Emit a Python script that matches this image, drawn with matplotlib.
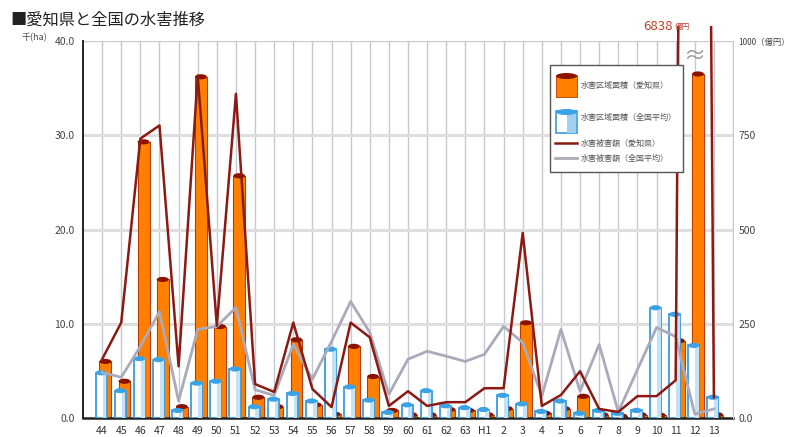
import matplotlib
matplotlib.use("Agg")
import matplotlib.pyplot as plt
from matplotlib.patches import Ellipse, Rectangle
from matplotlib.lines import Line2D
import numpy as np

plt.rcParams['font.family'] = ['Noto Sans CJK JP', 'DejaVu Sans']

# 年度（昭和44年〜平成13年）
years = ['44', '45', '46', '47', '48', '49', '50', '51', '52', '53', '54', '55',
         '56', '57', '58', '59', '60', '61', '62', '63', 'H1', '2', '3', '4',
         '5', '6', '7', '8', '9', '10', '11', '12', '13']

# 水害区域面積（千ha）
aichi_area = [6.0, 3.9, 29.3, 14.7, 1.2, 36.2, 9.7, 25.7, 2.2, 1.2, 8.3, 1.4,
              0.4, 7.6, 4.4, 0.8, 0.35, 0.35, 0.9, 0.8, 0.35, 1.0, 10.1, 0.5,
              1.0, 2.3, 0.35, 0.2, 0.35, 0.3, 8.2, 36.5, 0.35]
national_area = [4.8, 2.9, 6.3, 6.2, 0.8, 3.7, 3.9, 5.2, 1.2, 2.0, 2.6, 1.8,
                 7.3, 3.3, 1.9, 0.6, 1.4, 2.9, 1.3, 1.1, 0.9, 2.4, 1.5, 0.7,
                 1.8, 0.5, 0.8, 0.5, 0.8, 11.7, 11.0, 7.7, 2.2]

# 水害被害額（億円）
aichi_damage = [156, 253, 741, 776, 137, 908, 245, 860, 90, 69, 253, 77,
                29, 253, 214, 32, 71, 32, 42, 42, 79, 79, 491, 32,
                61, 124, 24, 16, 58, 58, 100, 6838, 55]
national_damage = [121, 108, 190, 282, 45, 235, 243, 293, 75, 60, 195, 103,
                   203, 309, 227, 63, 156, 177, 164, 150, 169, 243, 200, 58,
                   235, 71, 195, 16, 128, 240, 216, 10, 24]

W, H = 790, 437
fig = plt.figure(figsize=(W / 100, H / 100), dpi=100)


def fx(px):
    return px / W


def fy(py):
    return 1 - py / H


ax = fig.add_axes([fx(83), fy(418), fx(733) - fx(83), fy(41) - fy(418)])
x = np.arange(len(years))
ax.set_xlim(-1, len(years))
ax.set_ylim(0, 40)

# grid
for gx in range(0, len(years) + 1):
    ax.axvline(gx, color='#c6c9d2', lw=1.0, zorder=0)
for gy in [10, 20, 30]:
    ax.axhline(gy, color='#dedede', lw=2.2, zorder=0)
ax.axhline(40, color='#cccccc', lw=1.0, zorder=0)

bw = 0.62
# 愛知県（後ろ）
ax.bar(x + 0.17, aichi_area, width=bw, color='#ff8000', edgecolor='#b83c00',
       lw=0.8, zorder=2)
for xi, h in zip(x, aichi_area):
    ax.add_patch(Ellipse((xi + 0.17, h), bw, 0.55, facecolor='#8b1200',
                         edgecolor='none', zorder=2.1))
# 全国平均（手前）
ax.bar(x - 0.05, national_area, width=0.58, color='#ffffff', edgecolor='#3a9be0',
       lw=1.3, zorder=3)
ax.bar(x + 0.12, national_area, width=0.2, color='#c3e2f6', edgecolor='none',
       zorder=3.05)
for xi, h in zip(x, national_area):
    ax.add_patch(Ellipse((xi - 0.05, h), 0.58, 0.55, facecolor='#3aa2e6',
                         edgecolor='none', zorder=3.1))

ax.set_xticks(x)
ax.set_xticklabels(years, fontsize=7.5, color='#333333')
ax.set_yticks([0, 10, 20, 30, 40])
ax.set_yticklabels(['0.0', '10.0', '20.0', '30.0', '40.0'], fontsize=7.5,
                   color='#444444')
ax.tick_params(length=0, pad=6)
for s in ['top', 'right']:
    ax.spines[s].set_visible(False)
ax.spines['left'].set_color('#222222')
ax.spines['left'].set_linewidth(1.4)
ax.spines['bottom'].set_color('#222222')
ax.spines['bottom'].set_linewidth(1.8)

ax2 = ax.twinx()
ax2.set_ylim(0, 1000)
ax2.set_yticks([0, 250, 500, 750, 1000])
ax2.set_yticklabels(['0.0', '250', '500', '750', '1000（億円）'], fontsize=7.5,
                    color='#444444')
ax2.get_yticklabels()[-1].set_fontsize(6.0)
ax2.tick_params(length=0, pad=4)
for s in ['top', 'left', 'bottom']:
    ax2.spines[s].set_visible(False)
ax2.spines['right'].set_color('#c6c9d2')

clip = Rectangle((0, 0), 1, 1.04, transform=ax2.transAxes, visible=False)
ax2.add_patch(clip)
l1, = ax2.plot(x, national_damage, color='#aaaabb', lw=2.0, zorder=4)
l2, = ax2.plot(x, aichi_damage, color='#8c1a12', lw=1.8, zorder=5)
l1.set_clip_path(clip)
l2.set_clip_path(clip)

# 波線（省略記号）
ax2.text(31, 960, '≈', fontsize=16, color='#999999', ha='center', va='center',
         zorder=6)
fig.text(fx(643), fy(26), '6838', fontsize=9.5, color='#c0402c', va='center')
fig.text(fx(675), fy(27), '億円', fontsize=5.5, color='#c0402c', va='center')

# 凡例
fig.add_artist(Rectangle((fx(550), fy(172)), fx(683) - fx(550), fy(65) - fy(172),
                         transform=fig.transFigure, facecolor='white',
                         edgecolor='#555555', lw=1.0))
fig.add_artist(Rectangle((fx(556), fy(97)), fx(21), fy(0) - fy(22),
                         transform=fig.transFigure, facecolor='#ff8000',
                         edgecolor='#b83c00', lw=0.6))
fig.add_artist(Ellipse((fx(566.5), fy(76)), fx(21), fy(0) - fy(6),
                       transform=fig.transFigure, facecolor='#8b1200',
                       edgecolor='none'))
fig.add_artist(Rectangle((fx(556), fy(133)), fx(21), fy(0) - fy(22),
                         transform=fig.transFigure, facecolor='#ffffff',
                         edgecolor='#3a9be0', lw=1.2))
fig.add_artist(Rectangle((fx(567), fy(133)), fx(9), fy(0) - fy(22),
                         transform=fig.transFigure, facecolor='#9fd0f2',
                         edgecolor='none'))
fig.add_artist(Ellipse((fx(566.5), fy(112)), fx(21), fy(0) - fy(6),
                       transform=fig.transFigure, facecolor='#3aa2e6',
                       edgecolor='none'))
fig.add_artist(Line2D([fx(555), fx(577)], [fy(143), fy(143)],
                      transform=fig.transFigure, color='#8c1a12', lw=1.8))
fig.add_artist(Line2D([fx(555), fx(577)], [fy(158), fy(158)],
                      transform=fig.transFigure, color='#aaaabb', lw=2.0))
leg_labels = ['水害区域面積（愛知県）', '水害区域面積（全国平均）',
              '水害被害額（愛知県）', '水害被害額（全国平均）']
for lab, py in zip(leg_labels, [85, 117, 143, 158]):
    fig.text(fx(581), fy(py), lab, fontsize=5.8, color='#555555', va='center')

fig.text(fx(22), fy(38), '千(ha)', fontsize=6.5, color='#444444', va='center')
fig.text(fx(10), fy(20), '■愛知県と全国の水害推移', fontsize=11.7, color='#222222',
         va='center')

fig.savefig('out.png', dpi=100)
